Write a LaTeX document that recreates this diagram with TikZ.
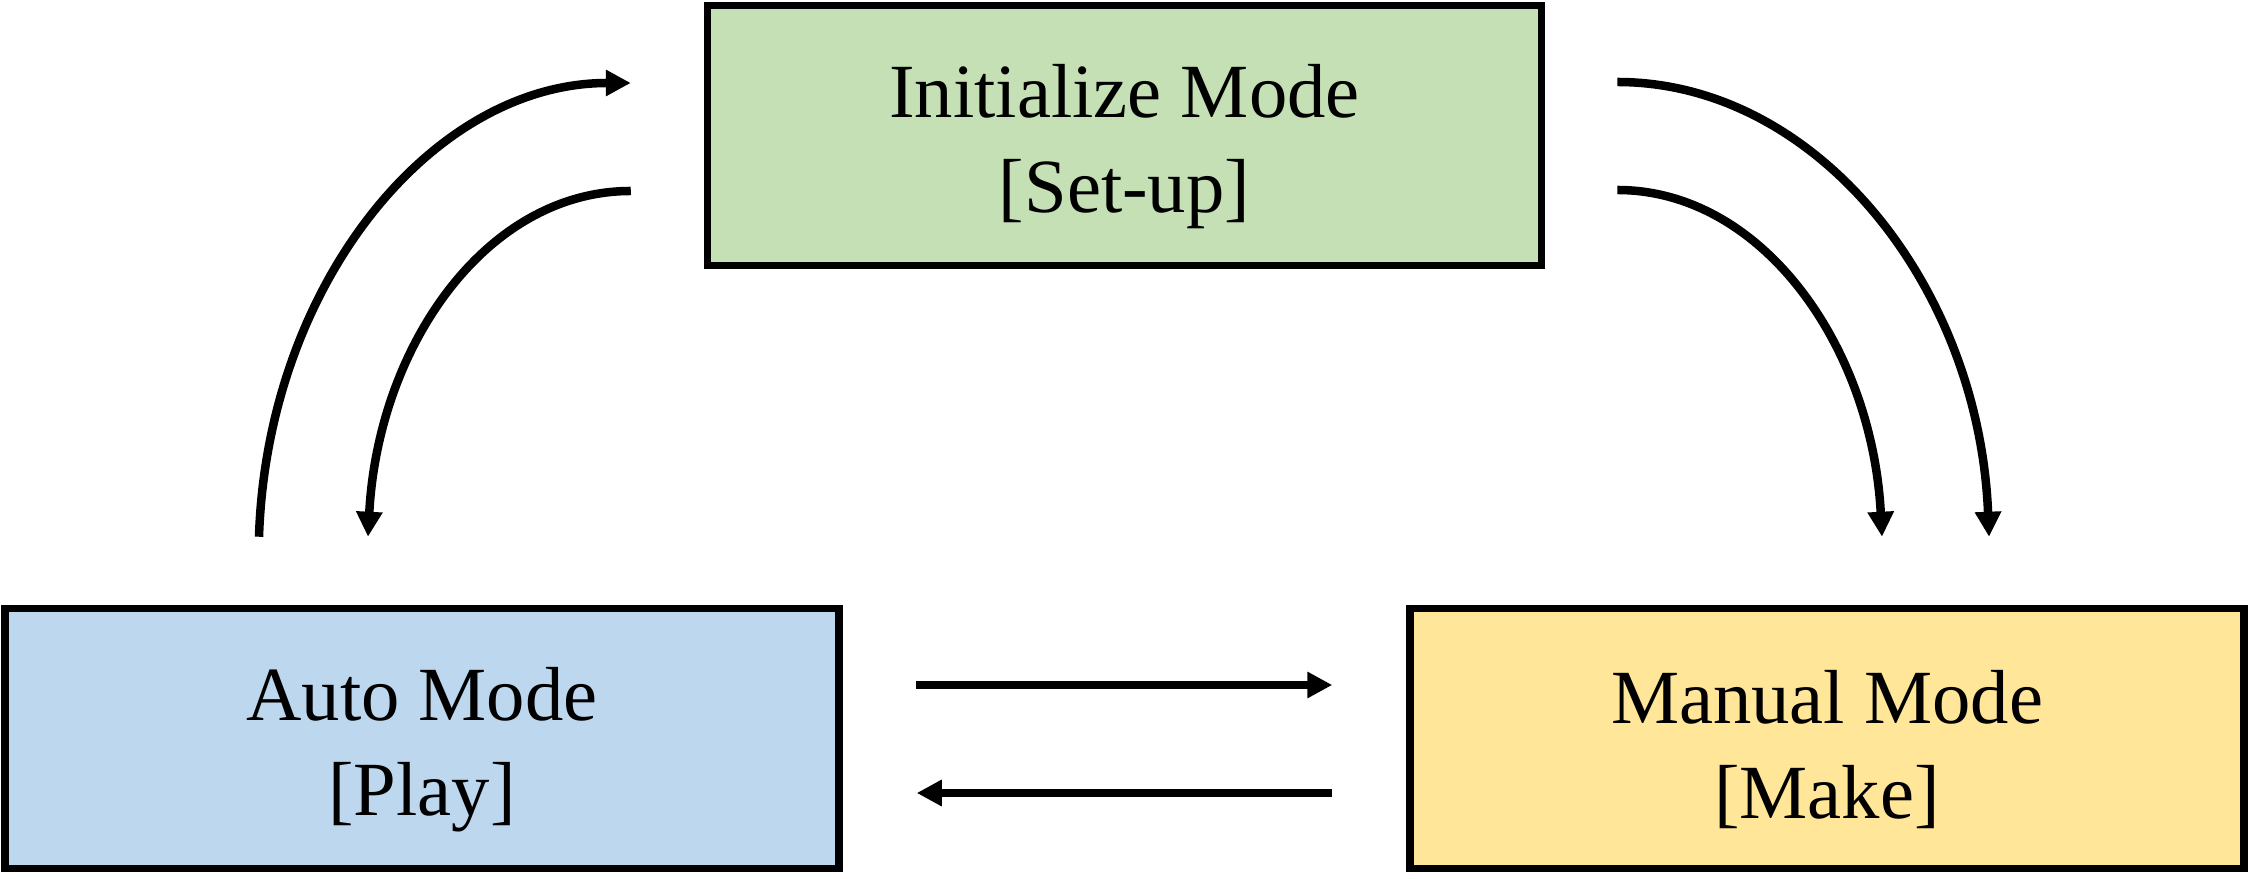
\documentclass[tikz,border=0pt]{standalone}
\usepackage{fontspec}
\setmainfont{Liberation Serif}
\usetikzlibrary{arrows.meta}
\definecolor{initgreen}{HTML}{C5E0B4}
\definecolor{autoblue}{HTML}{BDD7EE}
\definecolor{manualyellow}{HTML}{FFE699}
\colorlet{box edge}{black}
\def\modesize{\fontsize{21.8}{27}\selectfont}
\def\modelabel#1#2{\rule{0pt}{21.5pt}#1\\{}[#2]}
\tikzset{
  modebox/.style={draw=box edge, line width=0.075cm, minimum width=8.34cm,
    minimum height=2.6cm, align=center, font=\modesize},
  flow/.style={line width=0.085cm, -{Triangle[length=0.25cm, width=0.25cm]}}
}

\begin{document}
\begin{tikzpicture}
    \useasboundingbox (0,0) rectangle (22.5,8.78);
    \node[modebox, fill=initgreen] (init) at (11.245,7.425) {\modelabel{Initialize Mode}{Set-up}};
    \node[modebox, fill=autoblue] (auto) at (4.22,1.395) {\modelabel{Auto Mode}{Play}};
    \node[modebox, fill=manualyellow] (manual) at (18.27,1.395) {\modelabel{Manual Mode}{Make}};
    % auto <-> init
    \draw[flow] ([xshift=-1.63cm, yshift=0.68cm]auto.north)
      .. controls +(0.08,2.5) and +(-2.0,0) .. ([xshift=-0.73cm, yshift=0.525cm]init.west);
    \draw[flow] ([xshift=-0.73cm, yshift=-0.555cm]init.west)
      .. controls +(-1.45,0) and +(0.1,1.9) .. ([xshift=-0.54cm, yshift=0.68cm]auto.north);
    % init -> manual
    \draw[flow] ([xshift=0.72cm, yshift=0.535cm]init.east)
      .. controls +(2.0,0) and +(-0.1,2.5) .. ([xshift=1.62cm, yshift=0.68cm]manual.north);
    \draw[flow] ([xshift=0.72cm, yshift=-0.545cm]init.east)
      .. controls +(1.45,0) and +(-0.1,1.9) .. ([xshift=0.55cm, yshift=0.68cm]manual.north);
    % auto <-> manual
    \draw[flow] ([xshift=0.73cm, yshift=0.535cm]auto.east) -- ([xshift=-0.74cm, yshift=0.535cm]manual.west);
    \draw[flow] ([xshift=-0.74cm, yshift=-0.545cm]manual.west) -- ([xshift=0.74cm, yshift=-0.545cm]auto.east);
  \end{tikzpicture}
\end{document}
